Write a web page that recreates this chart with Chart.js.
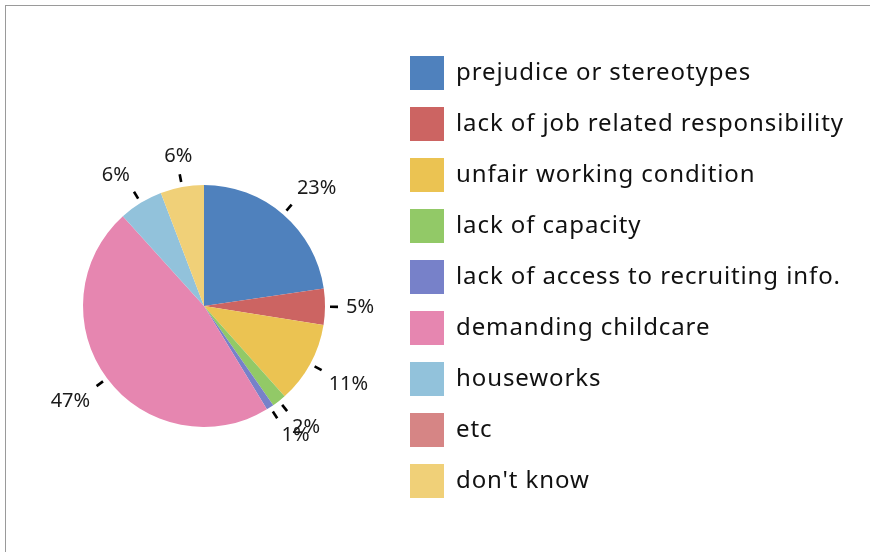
<!DOCTYPE html>
<html>
<head>
<meta charset="utf-8">
<script src="https://cdn.jsdelivr.net/npm/chart.js@4/dist/chart.umd.min.js"></script>
<style>
  html, body { margin: 0; padding: 0; background: #fff; overflow: hidden; width: 870px; height: 552px; }
  #frame { position: absolute; left: 5px; top: 5px; width: 900px; height: 600px;
           border-left: 1px solid #9a9a9a; border-top: 1px solid #9a9a9a; }
  #chart { position: absolute; left: 0; top: 0; }
</style>
</head>
<body>
<div id="frame"></div>
<canvas id="chart" width="870" height="573"></canvas>
<script>
// Reasons given, in slice order (clockwise from 12 o'clock)
const categories = [
  'prejudice or stereotypes',
  'lack of job related responsibility',
  'unfair working condition',
  'lack of capacity',
  'lack of access to recruiting info.',
  'demanding childcare',
  'houseworks',
  'etc',
  "don't know"
];

// Share of respondents per reason (%)
const shares = [22.7, 4.8, 10.9, 1.9, 1.0, 47.0, 5.9, 0, 5.8];

const sliceColors = [
  '#4F81BD', '#CC6462', '#EBC352', '#92C967', '#7781C9',
  '#E686B0', '#92C2DB', '#D68585', '#F0D078'
];

// Layout constants
const FONT = '"Noto Sans", "Open Sans", sans-serif';
const LEGEND_SIZE = 24;
const LEGEND_TRACKING = '0.9px';
const LABEL_SIZE = 20;
const BOX = 34;
const ROW_GAP = 17;
const PIE_X = 204, PIE_Y = 306, PIE_R = 121;
const LEGEND_X = 410, LEGEND_Y = 56;

const canvas = document.getElementById('chart');
const W = canvas.width, H = canvas.height;

// Size the legend column so its swatches start at LEGEND_X
const probe = document.createElement('canvas').getContext('2d');
probe.font = LEGEND_SIZE + 'px ' + FONT;
probe.letterSpacing = LEGEND_TRACKING;
const widest = Math.max(...categories.map(c => probe.measureText(c).width));
const legendW = ROW_GAP + BOX + LEGEND_SIZE / 2 + widest + 10;
const legendLeft = LEGEND_X - ROW_GAP;
const padRight = W - legendLeft - legendW;
const padLeft = 2 * PIE_X - legendLeft;
const padTop = LEGEND_Y - ROW_GAP;
const padBottom = H - (2 * PIE_Y - padTop);

// Slightly looser letter spacing for the legend text only
// (applied while the legend is measured and while it is drawn)
const legendTracking = {
  id: 'legendTracking',
  beforeLayout(chart) { chart.ctx.letterSpacing = LEGEND_TRACKING; },
  afterLayout(chart) { chart.ctx.letterSpacing = '0px'; },
  beforeDraw(chart) { chart.ctx.letterSpacing = LEGEND_TRACKING; },
  beforeDatasetsDraw(chart) { chart.ctx.letterSpacing = '0px'; }
};

// Percentage labels with short leader ticks outside each slice
const percentLabels = {
  id: 'percentLabels',
  afterDatasetsDraw(chart) {
    const meta = chart.getDatasetMeta(0);
    const data = chart.data.datasets[0].data;
    const total = data.reduce((a, b) => a + b, 0);
    const ctx = chart.ctx;
    ctx.save();
    ctx.letterSpacing = '0px';
    ctx.font = LABEL_SIZE + 'px ' + FONT;
    ctx.fillStyle = '#1a1a1a';
    ctx.strokeStyle = '#000';
    ctx.lineWidth = 2.6;
    meta.data.forEach((arc, i) => {
      if (!data[i]) return;
      const p = arc.getProps(['x', 'y', 'startAngle', 'endAngle', 'outerRadius'], true);
      const mid = (p.startAngle + p.endAngle) / 2;
      const c = Math.cos(mid), s = Math.sin(mid);
      ctx.beginPath();
      ctx.moveTo(p.x + c * (p.outerRadius + 5), p.y + s * (p.outerRadius + 5));
      ctx.lineTo(p.x + c * (p.outerRadius + 13), p.y + s * (p.outerRadius + 13));
      ctx.stroke();
      const d = p.outerRadius + 21;
      ctx.textAlign = c > 0.3 ? 'left' : (c < -0.3 ? 'right' : 'center');
      ctx.textBaseline = s > 0.3 ? 'top' : (s < -0.3 ? 'bottom' : 'middle');
      ctx.fillText(Math.round(data[i] / total * 100) + '%', p.x + c * d, p.y + s * d);
    });
    ctx.restore();
  }
};

new Chart(canvas, {
  type: 'pie',
  data: {
    labels: categories,
    datasets: [{
      data: shares,
      backgroundColor: sliceColors,
      borderWidth: 0,
      radius: PIE_R
    }]
  },
  options: {
    responsive: false,
    animation: false,
    layout: { padding: { left: padLeft, right: padRight, top: padTop, bottom: padBottom } },
    plugins: {
      tooltip: { enabled: false },
      legend: {
        position: 'right',
        align: 'start',
        maxWidth: 800,
        labels: {
          boxWidth: BOX,
          boxHeight: BOX,
          padding: ROW_GAP,
          color: '#111',
          font: { family: FONT, size: LEGEND_SIZE }
        }
      }
    }
  },
  plugins: [legendTracking, percentLabels]
});
</script>
</body>
</html>
